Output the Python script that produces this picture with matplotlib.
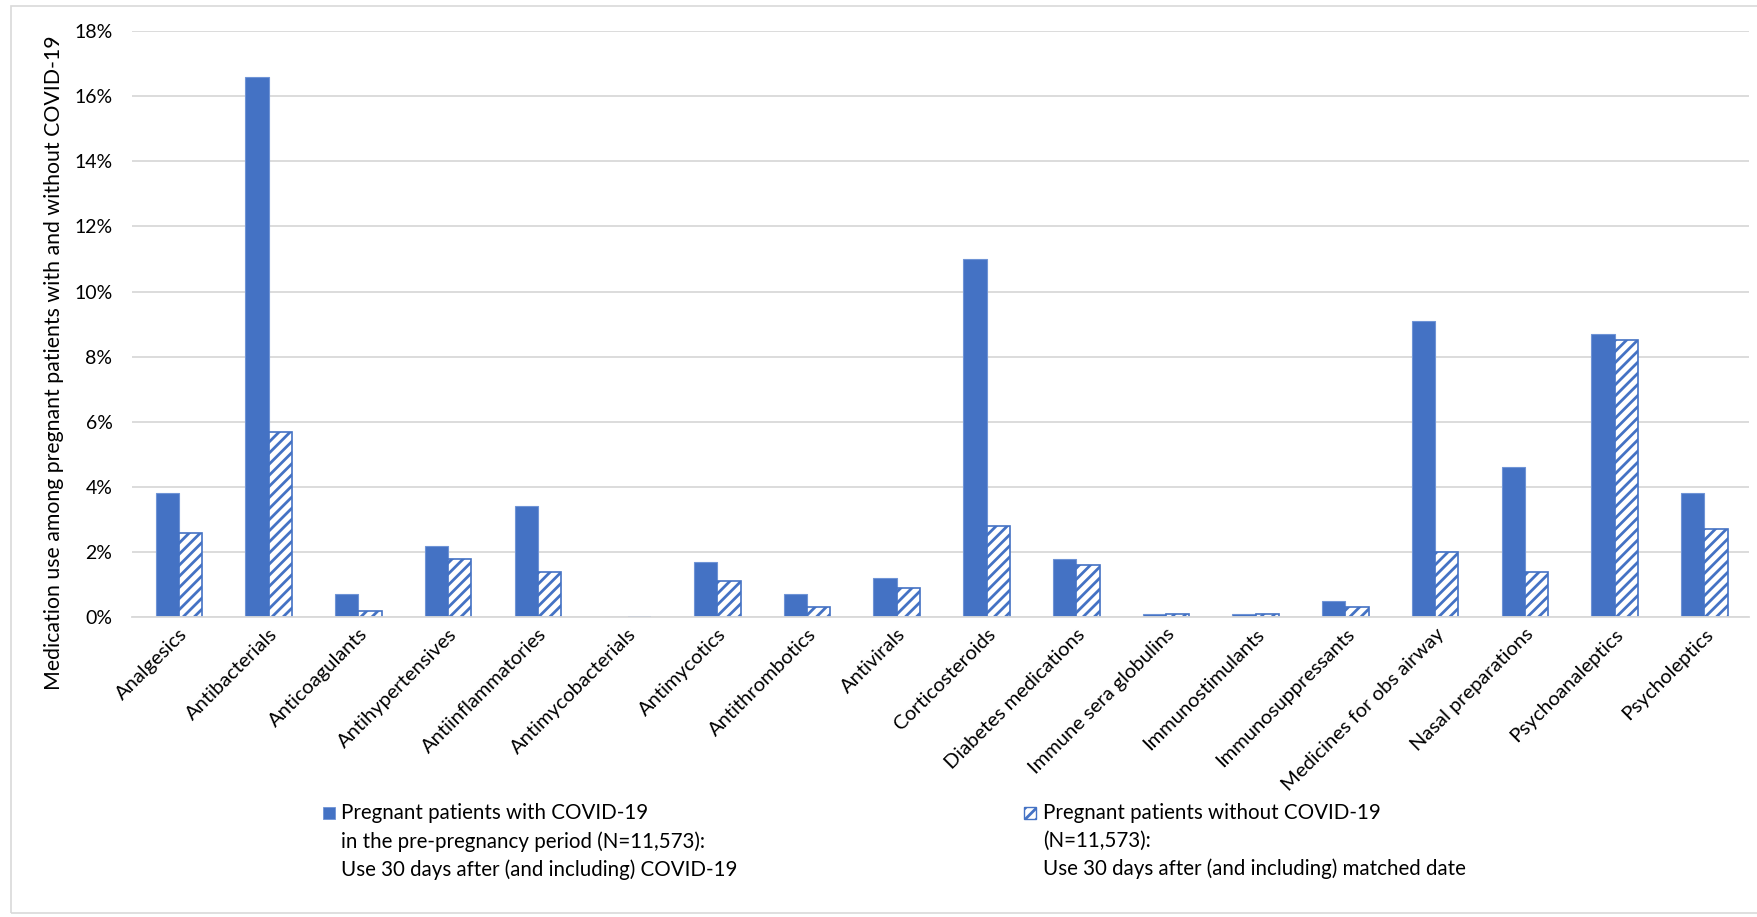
import numpy as np
import matplotlib
matplotlib.use('Agg')
import matplotlib.pyplot as plt
from matplotlib.ticker import PercentFormatter
from matplotlib.patches import Rectangle

# Medication classes and share of patients using them (%)
categories = ['Analgesics', 'Antibacterials', 'Anticoagulants', 'Antihypertensives',
              'Antiinflammatories', 'Antimycobacterials', 'Antimycotics', 'Antithrombotics',
              'Antivirals', 'Corticosteroids', 'Diabetes medications', 'Immune sera globulins',
              'Immunostimulants', 'Immunosuppressants', 'Medicines for obs airway',
              'Nasal preparations', 'Psychoanaleptics', 'Psycholeptics']
with_covid = [3.8, 16.6, 0.7, 2.2, 3.4, 0.0, 1.7, 0.7, 1.2, 11.0, 1.8, 0.1, 0.1, 0.5, 9.1, 4.6, 8.7, 3.8]
without_covid = [2.6, 5.7, 0.2, 1.8, 1.4, 0.0, 1.1, 0.3, 0.9, 2.8, 1.6, 0.1, 0.1, 0.3, 2.0, 1.4, 8.5, 2.7]

label_with = ('Pregnant patients with COVID-19\nin the pre-pregnancy period (N=11,573):\n'
              'Use 30 days after (and including) COVID-19')
label_without = ('Pregnant patients without COVID-19\n(N=11,573):\n'
                 'Use 30 days after (and including) matched date')

blue = '#4472C4'
plt.rcParams['font.family'] = ['Lato', 'DejaVu Sans']
plt.rcParams['hatch.linewidth'] = 2.0
plt.rcParams['hatch.color'] = blue

fig = plt.figure(figsize=(17.58, 9.17), dpi=100)
ax = fig.add_axes([0.075, 0.327, 0.92, 0.639])

x = np.arange(len(categories))
w = 0.26
ax.bar(x - w / 2, with_covid, w, color=blue, edgecolor='#6f94d6', linewidth=0.8)
ax.bar(x + w / 2, without_covid, w, color='white', edgecolor=blue, hatch='///', linewidth=1.2)

ax.set_ylim(0, 18)
ax.set_yticks(np.arange(0, 19, 2))
ax.yaxis.set_major_formatter(PercentFormatter(decimals=0))
ax.set_xlim(-0.525, len(categories) - 0.5)
ax.set_xticks(x)
ax.set_xticklabels(categories, rotation=45, ha='right', rotation_mode='anchor', fontsize=14.5)
ax.tick_params(axis='y', labelsize=14, length=0, pad=14)
ax.tick_params(axis='x', length=0, pad=6)
ax.grid(axis='y', color='#d9d9d9', linewidth=1.3)
ax.set_axisbelow(True)
for s in ['top', 'right', 'left']:
    ax.spines[s].set_visible(False)
ax.spines['bottom'].set_color('#d9d9d9')
ax.spines['bottom'].set_linewidth(1.3)
ax.set_ylabel('Medication use among pregnant patients with and without COVID-19', fontsize=15.3)
ax.yaxis.set_label_coords(-0.042, 0.435)

# legend, drawn by hand so the marker sits on the first line
fig.patches.append(Rectangle((0.1837, 0.1065), 0.0068, 0.013, transform=fig.transFigure,
                             facecolor=blue, edgecolor='#6f94d6', linewidth=0.6))
fig.patches.append(Rectangle((0.5823, 0.1065), 0.0068, 0.013, transform=fig.transFigure,
                             facecolor='white', edgecolor=blue, hatch='///', linewidth=1.0))
fig.text(0.1939, 0.124, label_with, fontsize=14.8, va='top', ha='left', linespacing=1.46)
fig.text(0.5931, 0.124, label_without, fontsize=14.8, va='top', ha='left', linespacing=1.46)

# chart area border
fig.patches.append(Rectangle((0.0064, 0.004), 0.994, 0.99, transform=fig.transFigure,
                             fill=False, edgecolor='#d9d9d9', linewidth=1.2))

fig.savefig('out.png', dpi=100)
